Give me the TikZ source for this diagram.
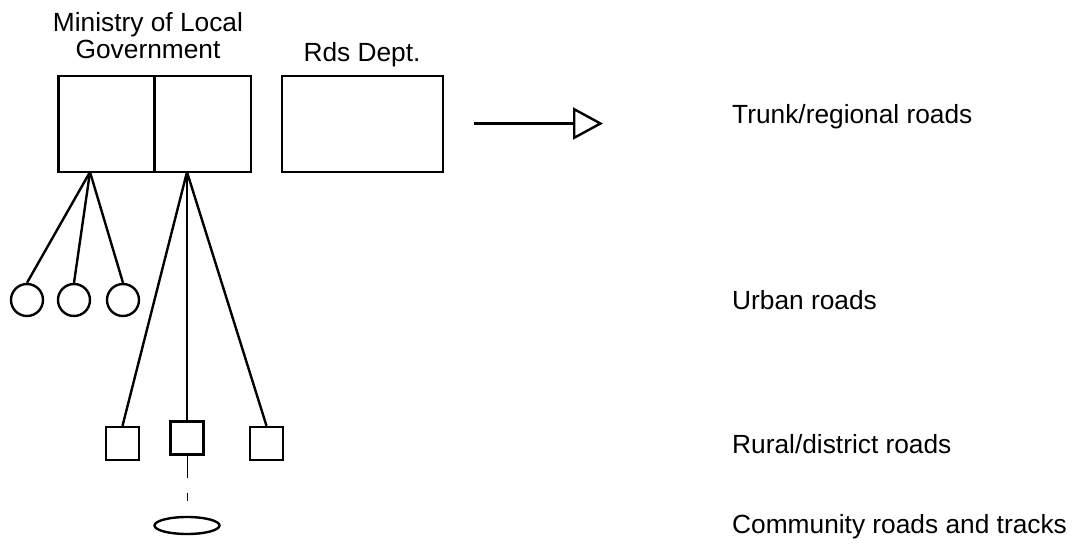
\documentclass[tikz,border=0pt]{standalone}
\usepackage{fontspec}
\setmainfont{Liberation Sans}
\usepackage{tikz}
\usetikzlibrary{positioning,arrows.meta,shapes.geometric}

\begin{document}
\begin{tikzpicture}[
        x=1pt, y=-1pt,
        every node/.style={font=\fontsize{26.3}{27}\selectfont},
        office/.style={draw, rectangle, line width=2.4pt, minimum width=96pt, minimum height=96pt, inner sep=0pt},
        council/.style={draw, circle, line width=2.4pt, minimum size=32pt, inner sep=0pt},
        district/.style={draw, rectangle, line width=2.4pt, minimum size=33pt, inner sep=0pt},
        community/.style={draw, ellipse, line width=2.4pt, minimum width=65pt, minimum height=17pt, inner sep=0pt},
        link/.style={line width=2.4pt},
        lab/.style={inner sep=0pt}
    ]
        \useasboundingbox (0,0) rectangle (1074,546);

        % Ministry and roads department (top boxes)
        \node[office] (mlgl) at (106.5,124) {};
        \node[office] (mlgr) at (203,124) {};
        \node[office, minimum width=161pt] (rds) at (362.5,124) {};
        \node[lab, align=center, anchor=south] (mlgtxt) at (148,59) {Ministry of Local\\Government};
        \node[lab, anchor=base] (rdstxt) at (362,61) {Rds Dept.};

        % Arrow to trunk roads
        \coordinate (arrfrom) at (474,123.5);
        \coordinate (arrto) at (603,123.5);
        \draw[link, -{Triangle[open, length=30pt, width=32pt, fill=white]}] (arrfrom) -- (arrto);

        % Urban councils
        \coordinate (lj) at (90,172);
        \node[council] (uc1) at (27,300) {};
        \node[council] (uc2) at (74,300) {};
        \node[council] (uc3) at (123,300) {};
        \draw[link] (lj) -- (uc1.north);
        \draw[link] (lj) -- (uc2.north);
        \draw[link] (lj) -- (uc3.north);

        % District councils
        \coordinate (rj) at (187,172);
        \node[district] (dc1) at (122.5,443.5) {};
        \node[district] (dc2) at (187,438) {};
        \node[district] (dc3) at (266.5,443.5) {};
        \draw[link] (rj) -- (dc1.north);
        \draw[link] (rj) -- (dc2.north);
        \draw[link] (rj) -- (dc3.north);

        % Community level
        \node[community] (cm) at (187,525.5) {};
        \draw[line width=1pt, dash pattern=on 22pt off 15pt on 8pt off 15pt] (dc2.south) -- (cm.north);

        % Road classes (right column)
        \node[lab, anchor=base west] (trunk) at (732,123) {Trunk/regional roads};
        \node[lab, anchor=base west] (urban) at (732,309) {Urban roads};
        \node[lab, anchor=base west] (rural) at (732,453) {Rural/district roads};
        \node[lab, anchor=base west] (comm) at (732,533) {Community roads and tracks};
    \end{tikzpicture}
\end{document}
